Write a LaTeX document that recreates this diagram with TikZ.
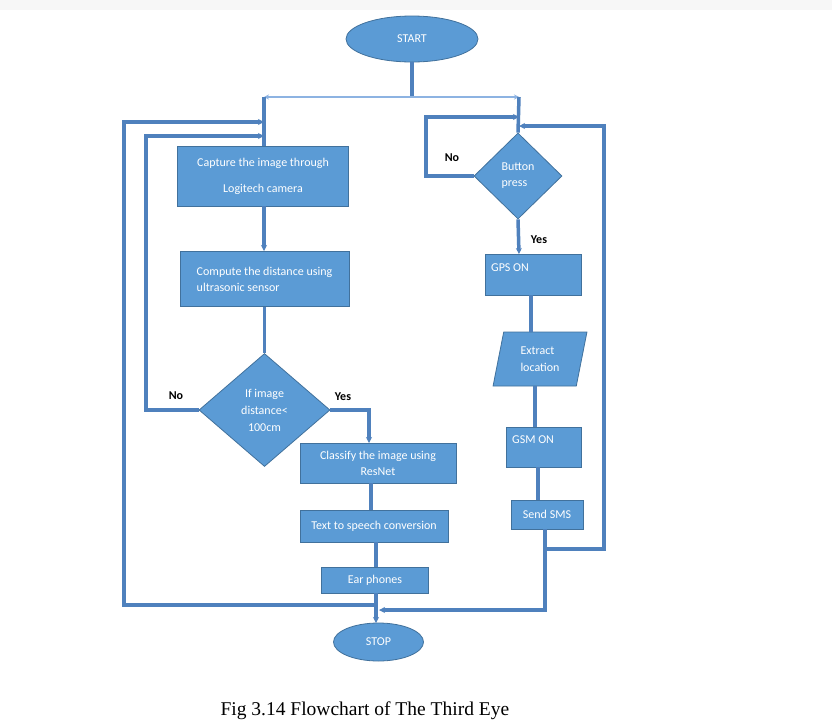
\documentclass[tikz,border=0pt]{standalone}
\usepackage{fontspec}
\setmainfont{Carlito}
\newfontfamily\capfont{Liberation Serif}
\usetikzlibrary{shapes.geometric,arrows.meta}
\definecolor{boxfill}{RGB}{91,155,213}
\definecolor{boxedge}{RGB}{65,113,156}
\definecolor{flow}{RGB}{79,129,189}
\definecolor{thinflow}{RGB}{141,179,226}
\tikzset{
  box/.style={draw=boxedge, line width=0.8pt, fill=boxfill, text=white, font=\fontsize{12}{16}\selectfont, inner sep=0pt},
  rbox/.style={box, rectangle},
  dbox/.style={box, diamond},
  ebox/.style={box, ellipse},
  pbox/.style={box, trapezium, trapezium left angle=77, trapezium right angle=103, trapezium stretches=true},
  flowline/.style={draw=flow, line width=3.5pt},
  arr/.style={-{Stealth[length=6pt,width=6pt]}},
  lbl/.style={font=\bfseries\fontsize{12}{14}\selectfont, text=black},
  txt/.style={text=white, font=\fontsize{12}{14}\selectfont, inner sep=0pt}
}
\begin{document}
\begin{tikzpicture}[x=1pt,y=-1pt]
\useasboundingbox (0,0) rectangle (832,721);
\fill[white] (0,0) rectangle (832,721);
\fill[gray!6] (0,0) rectangle (832,10);

% nodes
\node[ebox, minimum width=132, minimum height=46] (start) at (412,39) {START};
\node[rbox, minimum width=171, minimum height=60, align=center, font=\fontsize{12}{26}\selectfont] (capture) at (263,176) {Capture the image through\\Logitech camera};
\node[rbox, minimum width=169, minimum height=55, align=left] (compute) at (264.5,279) {Compute the distance using\\ultrasonic sensor};
\node[dbox, minimum width=131, minimum height=113, align=center, font=\fontsize{12}{17}\selectfont] (d1) at (264.5,410) {If image\\distance<\\100cm};
\node[rbox, minimum width=156, minimum height=40, align=center] (classify) at (378,463) {Classify the image using\\ResNet};
\node[rbox, minimum width=148, minimum height=32] (tts) at (374,526) {Text to speech conversion};
\node[rbox, minimum width=107, minimum height=26] (ear) at (375,580) {Ear phones};
\node[ebox, minimum width=90, minimum height=38] (stop) at (378.5,642) {STOP};

\node[dbox, minimum width=88, minimum height=86, align=left] (d2) at (518,176) {Button\\press};
\node[rbox, minimum width=96, minimum height=41] (gps) at (533,274.5) {};
\node[txt, anchor=west] (gpst) at (491,268) {GPS ON};
\node[pbox, minimum width=94, minimum height=54, align=left, font=\fontsize{12}{17}\selectfont] (extract) at (540,359) {Extract\\location};
\node[rbox, minimum width=75, minimum height=40] (gsm) at (543.5,447) {};
\node[txt, anchor=west] (gsmt) at (512,440) {GSM ON};
\node[rbox, minimum width=72, minimum height=29] (sms) at (547,514.5) {Send SMS};

% junction coordinates
\coordinate (split) at (412,97);
\coordinate (lsplit) at (264,97);
\coordinate (rsplit) at (519,97);

% top connectors
\draw[flowline] (start.south) -- (split);
\draw[draw=thinflow, line width=1.4pt, {Stealth[length=5pt,width=5pt]}-{Stealth[length=5pt,width=5pt]}] (lsplit) -- (rsplit);

% left branch
\draw[flowline] (lsplit) -- (264,146);
\draw[flowline, arr] (264,206) -- (264,251);
\draw[flowline] (compute.south) -- (d1.north);
\draw[flowline, arr] (d1.west) -- (146,410) -- (146,136) -- (264,136);
\draw[flowline, arr] (376,605) -- (124,605) -- (124,122) -- (264,122);
\draw[flowline, arr] (d1.east) -- (369,410) -- (369,443);
\draw[flowline] (371,483) -- (371,510);
\draw[flowline] (376,542) -- (376,567);
\draw[flowline, arr] (376,593) -- (376,623);

% right branch
\draw[flowline] (rsplit) -- (d2.north);
\draw[flowline, arr] (d2.west) -- (426,176) -- (426,117) -- (519,117);
\draw[flowline, arr] (d2.south) -- (519,254);
\draw[flowline] (531,295) -- (531,332);
\draw[flowline] (535,386) -- (535,427);
\draw[flowline] (538,467) -- (538,500);
\draw[flowline, arr] (545,529) -- (545,610) -- (379,610);
\draw[flowline, arr] (545,549) -- (604,549) -- (604,126) -- (519,126);

% labels
\node[lbl] (nol) at (176,396) {No};
\node[lbl] (yesl) at (343,397) {Yes};
\node[lbl] (nor) at (452,158) {No};
\node[lbl] (yesr) at (539,240) {Yes};

% caption
\node[font=\capfont\fontsize{19.5}{22}\selectfont, anchor=west] (caption) at (217,711) {Fig 3.14 Flowchart of The Third Eye};
\end{tikzpicture}
\end{document}
